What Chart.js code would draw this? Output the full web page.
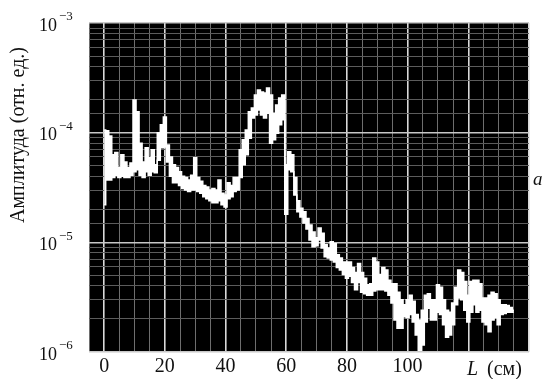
<!DOCTYPE html>
<html>
<head>
<meta charset="utf-8">
<script src="https://cdn.jsdelivr.net/npm/chart.js@4.4.1/dist/chart.umd.min.js"></script>
<style>
  html, body { margin: 0; padding: 0; background: #fff; }
  #wrap { width: 552px; height: 379px; }
</style>
</head>
<body>
<div id="wrap"><canvas id="chart" width="552" height="379"></canvas></div>
<script>
// positions along the line, cm
var positions = [
  0, 1, 2, 3, 4, 5, 6, 7, 8, 9, 10, 11, 12, 13, 14, 15, 16, 17, 18, 19,
  20, 21, 22, 23, 24, 25, 26, 27, 28, 29, 30, 31, 32, 33, 34, 35, 36, 37, 38, 39,
  40, 41, 42, 43, 44, 45, 46, 47, 48, 49, 50, 51, 52, 53, 54, 55, 56, 57, 58, 59,
  60, 61, 62, 63, 64, 65, 66, 67, 68, 69, 70, 71, 72, 73, 74, 75, 76, 77, 78, 79,
  80, 81, 82, 83, 84, 85, 86, 87, 88, 89, 90, 91, 92, 93, 94, 95, 96, 97, 98, 99,
  100, 101, 102, 103, 104, 105, 106, 107, 108, 109, 110, 111, 112, 113, 114, 115, 116, 117, 118, 119,
  120, 121, 122, 123, 124, 125, 126, 127, 128, 129, 130, 131, 132, 133, 134, 135
];

// upper edge of the noisy trace
var amplitudeHigh = [
  106e-6, 104e-6, 93e-6, 63e-6, 66e-6, 48e-6, 63e-6, 54e-6, 48e-6, 53e-6,
  199e-6, 155e-6, 80e-6, 54e-6, 73e-6, 59e-6, 70e-6, 51e-6, 100e-6, 118e-6,
  139e-6, 77e-6, 60e-6, 51e-6, 48e-6, 44e-6, 40e-6, 39e-6, 37e-6, 41e-6,
  59e-6, 39e-6, 36e-6, 33e-6, 32e-6, 30e-6, 31e-6, 30e-6, 37e-6, 28e-6,
  27e-6, 35e-6, 33e-6, 39e-6, 39e-6, 70e-6, 86e-6, 106e-6, 155e-6, 168e-6,
  221e-6, 245e-6, 235e-6, 230e-6, 255e-6, 221e-6, 150e-6, 179e-6, 207e-6, 221e-6,
  51e-6, 67e-6, 63e-6, 39e-6, 24e-6, 20.5e-6, 19e-6, 16.5e-6, 14.4e-6, 12.4e-6,
  11e-6, 13.5e-6, 12.1e-6, 9.5e-6, 8.9e-6, 10.1e-6, 9.7e-6, 7.7e-6, 7.2e-6, 6.6e-6,
  6.6e-6, 6.6e-6, 5.9e-6, 5.3e-6, 6.4e-6, 5.3e-6, 4.7e-6, 4.1e-6, 4.2e-6, 7.2e-6,
  6.6e-6, 5.1e-6, 5.9e-6, 5.6e-6, 4.5e-6, 4.2e-6, 4.2e-6, 3.5e-6, 3.0e-6, 2.7e-6,
  3.0e-6, 3.3e-6, 2.9e-6, 2.2e-6, 1.96e-6, 2.4e-6, 3.3e-6, 3.4e-6, 3.0e-6, 3.0e-6,
  4.1e-6, 3.9e-6, 3.0e-6, 2.4e-6, 2.3e-6, 2.8e-6, 3.9e-6, 5.6e-6, 5.3e-6, 4.4e-6,
  3.3e-6, 4.4e-6, 4.5e-6, 4.5e-6, 4.2e-6, 3.1e-6, 3.1e-6, 3.3e-6, 3.5e-6, 3.4e-6,
  3.0e-6, 2.7e-6, 2.7e-6, 2.65e-6, 2.55e-6, 2.4e-6
];

// lower edge of the noisy trace
var amplitudeLow = [
  22e-6, 37e-6, 37e-6, 39e-6, 41e-6, 39e-6, 40e-6, 39e-6, 39e-6, 41e-6,
  44e-6, 46e-6, 41e-6, 39e-6, 44e-6, 41e-6, 44e-6, 43e-6, 56e-6, 73e-6,
  74e-6, 54e-6, 40e-6, 35e-6, 35e-6, 33e-6, 31e-6, 30e-6, 29e-6, 30e-6,
  30e-6, 29e-6, 28e-6, 26e-6, 25e-6, 24e-6, 23e-6, 23e-6, 24e-6, 22e-6,
  21e-6, 25e-6, 26e-6, 29e-6, 30e-6, 39e-6, 51e-6, 63e-6, 89e-6, 136e-6,
  145e-6, 161e-6, 145e-6, 136e-6, 150e-6, 80e-6, 86e-6, 99e-6, 118e-6, 131e-6,
  18e-6, 46e-6, 44e-6, 27e-6, 19e-6, 17e-6, 15e-6, 13.2e-6, 10.5e-6, 9.1e-6,
  9.3e-6, 10.5e-6, 8.9e-6, 7.4e-6, 7.2e-6, 6.9e-6, 6.6e-6, 5.9e-6, 5.6e-6, 5.1e-6,
  4.7e-6, 4.9e-6, 4.3e-6, 3.7e-6, 4.3e-6, 3.5e-6, 3.4e-6, 3.3e-6, 3.3e-6, 3.6e-6,
  3.7e-6, 3.7e-6, 3.7e-6, 3.6e-6, 3.3e-6, 2.8e-6, 1.96e-6, 1.65e-6, 1.65e-6, 2.1e-6,
  2.05e-6, 2.2e-6, 1.88e-6, 1.43e-6, 1.04e-6, 1.16e-6, 1.88e-6, 2.5e-6, 1.96e-6, 1.96e-6,
  2.3e-6, 2.2e-6, 1.77e-6, 1.36e-6, 1.43e-6, 1.77e-6, 2.7e-6, 3.1e-6, 3.0e-6, 2.4e-6,
  1.88e-6, 2.3e-6, 2.7e-6, 2.3e-6, 2.4e-6, 1.88e-6, 1.77e-6, 1.53e-6, 1.96e-6, 2.05e-6,
  1.77e-6, 2.2e-6, 2.25e-6, 2.3e-6, 2.3e-6, 2.3e-6
];

var xLabels = [0, 20, 40, 60, 80, 100];
var yDecades = [1e-6, 1e-5, 1e-4, 1e-3];

var SERIF = '"Liberation Serif", "Times New Roman", serif';

function pairs(ys) {
  return positions.map(function (x, i) { return { x: x, y: ys[i] }; });
}

function isDecade(v) {
  var e = Math.log10(v);
  return Math.abs(e - Math.round(e)) < 1e-6;
}

var blackPlot = {
  id: "blackPlot",
  beforeDraw: function (chart) {
    var a = chart.chartArea;
    var ctx = chart.ctx;
    ctx.save();
    ctx.fillStyle = "#000";
    ctx.fillRect(a.left, a.top, a.right - a.left, a.bottom - a.top);
    ctx.restore();
  }
};

var texts = {
  id: "texts",
  afterDraw: function (chart) {
    var ctx = chart.ctx;
    var y = chart.scales.y;
    ctx.save();
    ctx.fillStyle = "#111";

    // decade labels 10^n
    yDecades.forEach(function (v) {
      var py = y.getPixelForValue(v);
      var exp = Math.round(Math.log10(v));
      ctx.font = "18px " + SERIF;
      ctx.textAlign = "right";
      ctx.textBaseline = "middle";
      ctx.fillText("10", 57, py + 3);
      ctx.font = "13px " + SERIF;
      ctx.textAlign = "left";
      ctx.fillText("\u2212" + Math.abs(exp), 59, py - 6);
    });

    // y title
    ctx.save();
    ctx.translate(19, 135);
    ctx.rotate(-Math.PI / 2);
    ctx.font = "20px " + SERIF;
    ctx.textAlign = "center";
    ctx.textBaseline = "middle";
    ctx.fillText("Амплитуда (отн. ед.)", 0, 0);
    ctx.restore();

    // x title
    ctx.textBaseline = "alphabetic";
    ctx.textAlign = "left";
    ctx.font = "italic 20px " + SERIF;
    ctx.fillText("L", 467, 375);
    ctx.font = "20px " + SERIF;
    ctx.fillText("(см)", 487, 375);

    // panel letter
    ctx.font = "italic 19px " + SERIF;
    ctx.fillText("a", 533, 185);
    ctx.restore();
  }
};

new Chart(document.getElementById("chart"), {
  type: "line",
  data: {
    datasets: [{
      data: pairs(amplitudeHigh),
      borderColor: "#fff",
      backgroundColor: "#fff",
      borderWidth: 1.5,
      pointRadius: 0,
      stepped: "middle",
      fill: "+1"
    }, {
      data: pairs(amplitudeLow),
      borderColor: "#fff",
      borderWidth: 1.5,
      pointRadius: 0,
      stepped: "middle",
      fill: false
    }]
  },
  options: {
    responsive: false,
    animation: false,
    devicePixelRatio: 1,
    layout: { padding: { top: 23, right: 23, left: 0, bottom: 0 } },
    plugins: { legend: { display: false }, tooltip: { enabled: false } },
    scales: {
      x: {
        type: "linear",
        min: -5,
        max: 140,
        afterFit: function (s) { s.height = 27; },
        border: { display: false },
        grid: {
          drawTicks: false,
          color: function (c) { return c.tick && c.tick.value % 20 === 0 ? "#d9d9d9" : "#6e6e6e"; },
          lineWidth: function (c) { return c.tick && c.tick.value % 20 === 0 ? 1.6 : 1; }
        },
        ticks: {
          stepSize: 5,
          autoSkip: false,
          maxRotation: 0,
          padding: 3,
          color: "#111",
          font: { family: SERIF, size: 20 },
          callback: function (v) { return xLabels.indexOf(v) >= 0 ? String(v) : ""; }
        }
      },
      y: {
        type: "logarithmic",
        min: 1e-6,
        max: 1e-3,
        afterFit: function (s) { s.width = 89; },
        border: { display: false },
        grid: {
          drawTicks: false,
          color: function (c) { return c.tick && isDecade(c.tick.value) ? "#c8c8c8" : "#5c5c5c"; },
          lineWidth: function (c) { return c.tick && isDecade(c.tick.value) ? 1.6 : 1; }
        },
        ticks: {
          autoSkip: false,
          display: false
        }
      }
    }
  },
  plugins: [blackPlot, texts]
});
</script>
</body>
</html>
